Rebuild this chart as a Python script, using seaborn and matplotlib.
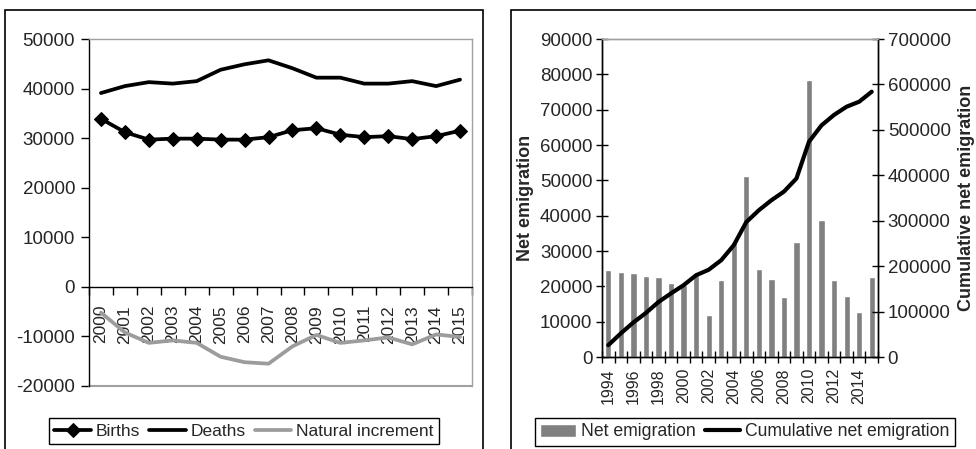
import numpy as np
import pandas as pd
import seaborn as sns
import matplotlib.pyplot as plt
from matplotlib.patches import Rectangle
from matplotlib.ticker import FixedLocator

# left panel data
years_l = list(range(2000, 2016))
births = [33900, 31200, 29700, 29900, 29900, 29700, 29700, 30200,
          31600, 32000, 30700, 30200, 30400, 29800, 30400, 31500]
deaths = [39100, 40500, 41300, 41000, 41500, 43800, 44900, 45700,
          44100, 42200, 42200, 41000, 41000, 41500, 40500, 41800]
natural = [-5200, -9200, -11300, -10800, -11300, -14100, -15200, -15500,
           -12000, -9700, -11300, -10800, -10200, -11600, -9600, -10100]

# right panel data
years_r = list(range(1994, 2016))
net_emig = [24700, 24100, 23800, 23000, 22700, 20900, 20300, 23200,
            11800, 21700, 32500, 51100, 24900, 22000, 17000, 32500,
            78300, 38700, 21700, 17200, 12700, 22600]
cum_emig = [26000, 52000, 76000, 97000, 121000, 140000, 158000, 180000,
            192000, 213000, 246000, 297000, 323000, 345000, 364000, 393000,
            474000, 510000, 533000, 551000, 562000, 584000]

sns.set_theme(style="white")
plt.rcParams['font.family'] = ['Liberation Sans', 'DejaVu Sans']
plt.rcParams['axes.unicode_minus'] = False

FS = 13.5
LFS = 12.5
W, H = 976, 449
fig = plt.figure(figsize=(W / 100, H / 100), dpi=100)

# panel frames
fig.patches.append(Rectangle((5 / W, -0.02), 478 / W, 1.02 - 10 / H,
                             transform=fig.transFigure, fill=False,
                             edgecolor='black', lw=1.2))
fig.patches.append(Rectangle((511 / W, -0.02), 0.6, 1.02 - 10 / H,
                             transform=fig.transFigure, fill=False,
                             edgecolor='black', lw=1.2))

GRAY_FRAME = '#a0a0a0'

# ---------- left chart ----------
ax = fig.add_axes([89 / W, 63 / H, 383 / W, 347 / H])
df_l = pd.DataFrame({'year': years_l, 'Births': births,
                     'Deaths': deaths, 'Natural increment': natural})
sns.lineplot(data=df_l, x='year', y='Births', ax=ax, color='black', lw=2.7,
             marker='D', markersize=7.5, markeredgecolor='black', label='Births')
sns.lineplot(data=df_l, x='year', y='Deaths', ax=ax, color='black', lw=2.7,
             label='Deaths')
sns.lineplot(data=df_l, x='year', y='Natural increment', ax=ax,
             color='#9c9c9c', lw=2.7, label='Natural increment')

ax.set_xlim(years_l[0] - 0.5, years_l[-1] + 0.5)
ax.set_ylim(-20000, 50000)
ax.set_yticks(np.arange(-20000, 50001, 10000))
ax.set_xlabel('')
ax.set_ylabel('')
ax.spines['bottom'].set_position(('data', 0))
ax.spines['bottom'].set_color('black')
ax.spines['left'].set_color('black')
ax.spines['top'].set_color(GRAY_FRAME)
ax.spines['right'].set_color(GRAY_FRAME)
for s in ax.spines.values():
    s.set_linewidth(1)
ax.axhline(-20000, color=GRAY_FRAME, lw=1.5, clip_on=False)
ax.set_xticks(years_l)
ax.set_xticklabels([str(y) for y in years_l], rotation=90, va='top')
ax.xaxis.set_minor_locator(FixedLocator(np.arange(years_l[0] - 0.5, years_l[-1] + 1, 1)))
ax.tick_params(axis='x', which='major', length=0, pad=13, labelsize=12.5)
ax.tick_params(axis='x', which='minor', length=6, width=1, direction='out',
               color='black', bottom=True)
ax.tick_params(axis='y', length=6, width=1, direction='out', color='black',
               left=True, labelsize=FS, pad=4)
h, l = ax.get_legend_handles_labels()
ax.legend(h, l, loc='center', bbox_to_anchor=(244 / W, 18 / H),
          bbox_transform=fig.transFigure, ncol=3, frameon=True,
          fancybox=False, edgecolor='black', framealpha=1, fontsize=LFS,
          handlelength=2.1, columnspacing=0.5, handletextpad=0.3,
          borderpad=0.3)

# ---------- right chart ----------
ax2 = fig.add_axes([602 / W, 92 / H, 276 / W, 318 / H])
df_r = pd.DataFrame({'year': years_r, 'net': net_emig, 'cum': cum_emig})
sns.barplot(data=df_r, x='year', y='net', ax=ax2, native_scale=True,
            color='#808080', saturation=1, width=0.5, label='Net emigration')
ax2.set_xlim(years_r[0] - 0.5, years_r[-1] + 0.5)
ax2.set_ylim(0, 90000)
ax2.set_yticks(np.arange(0, 90001, 10000))
ax2.set_xlabel('')
ax2.set_ylabel('Net emigration', fontweight='bold', fontsize=13, labelpad=4)

ax3 = ax2.twinx()
sns.lineplot(data=df_r, x='year', y='cum', ax=ax3, color='black', lw=3,
             label='Cumulative net emigration')
ax3.set_ylim(0, 700000)
ax3.set_yticks(np.arange(0, 700001, 100000))
ax3.set_ylabel('Cumulative net emigration', fontweight='bold', fontsize=13,
               labelpad=5)
ax3.set_xlim(years_r[0] - 0.5, years_r[-1] + 0.5)
ax3.set_xlabel('')
if ax3.get_legend():
    ax3.get_legend().remove()

for a in (ax2, ax3):
    for s in a.spines.values():
        s.set_linewidth(1)
        s.set_color('black')
    a.spines['top'].set_color(GRAY_FRAME)

ax2.set_xticks(years_r[::2])
ax2.set_xticklabels([str(y) for y in years_r[::2]], rotation=90, va='top')
ax2.xaxis.set_minor_locator(FixedLocator(np.arange(years_r[0] - 0.5, years_r[-1] + 1, 1)))
ax2.tick_params(axis='x', which='major', length=0, pad=8, labelsize=11.5)
ax2.tick_params(axis='x', which='minor', length=8, width=1, direction='inout',
                color='black', bottom=True)
ax2.tick_params(axis='y', length=8, width=1, direction='inout', color='black',
                left=True, labelsize=FS, pad=3)
ax3.tick_params(axis='y', length=8, width=1, direction='inout', color='black',
                right=True, labelsize=FS, pad=3)

h2, l2 = ax2.get_legend_handles_labels()
h3, l3 = ax3.get_legend_handles_labels()
if ax2.get_legend():
    ax2.get_legend().remove()
ax3.legend(h2 + h3, l2 + l3, loc='center', bbox_to_anchor=(745 / W, 17 / H),
           bbox_transform=fig.transFigure, ncol=2, frameon=True,
           fancybox=False, edgecolor='black', framealpha=1, fontsize=12.7,
           handlelength=2.0, columnspacing=0.5, handletextpad=0.3,
           borderpad=0.3)

fig.savefig('out.png', dpi=100)
